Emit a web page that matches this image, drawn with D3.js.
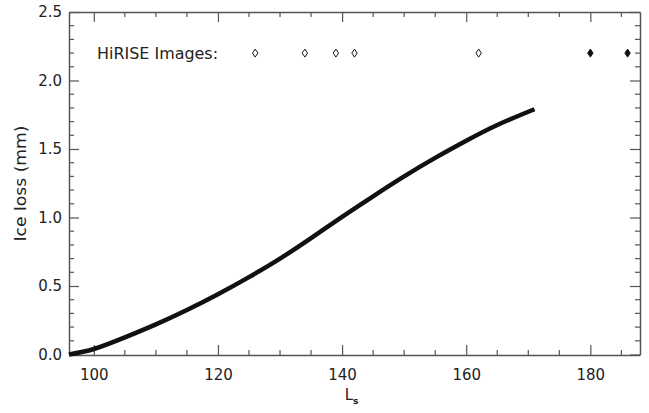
<!DOCTYPE html>
<html>
<head>
<meta charset="utf-8">
<script src="https://cdn.jsdelivr.net/npm/d3@7"></script>
<style>
  body { margin: 0; background: #fff; }
  svg text { font-family: "DejaVu Sans", sans-serif; fill: #222; }
</style>
</head>
<body>
<div id="chart"></div>
<script>
// Ice loss curve
const ls = [96, 100, 105, 110, 115, 120, 125, 130, 135, 140, 145, 150, 155, 160, 165, 171];
const iceLoss = [0.0, 0.04, 0.125, 0.22, 0.325, 0.44, 0.565, 0.70, 0.85, 1.005, 1.155, 1.30, 1.435, 1.56, 1.675, 1.79];

// HiRISE image dates
const imagesLs = [126, 134, 139, 142, 162, 180, 186];
const imagesFilled = [false, false, false, false, false, true, true];
const imagesY = 2.2;

const xTicks = [100, 120, 140, 160, 180];
const yTicks = [0.0, 0.5, 1.0, 1.5, 2.0, 2.5];

const width = 649, height = 413;
const margin = { left: 69, right: 9, top: 12, bottom: 58 };

const svg = d3.select('#chart').append('svg')
    .attr('width', width)
    .attr('height', height);

const x = d3.scaleLinear().domain([96, 188]).range([margin.left, width - margin.right]);
const y = d3.scaleLinear().domain([0, 2.5]).range([height - margin.bottom - 0.5, margin.top]);

const axisColor = '#555';

function styleAxis(g) {
    g.select('.domain').attr('stroke', axisColor).attr('stroke-width', 1.5);
    g.selectAll('.tick line').attr('stroke', axisColor).attr('stroke-width', 1.2);
    g.selectAll('.tick text').attr('fill', '#222').style('font-size', '15px');
}

function minorTicks(g, vals, horiz, len) {
    g.append('g').selectAll('line')
        .data(vals)
        .enter()
        .append('line')
            .attr('x1', d => horiz ? x(d) : 0)
            .attr('x2', d => horiz ? x(d) : len)
            .attr('y1', d => horiz ? 0 : y(d))
            .attr('y2', d => horiz ? len : y(d))
            .attr('stroke', axisColor)
            .attr('stroke-width', 1.2);
}

const xMinor = d3.range(100, 188, 5).filter(d => d % 20 != 0);
const yMinor = d3.range(0, 25).map(d => d / 10).filter(d => Math.round(d * 10) % 5 != 0);

const bottomG = svg.append('g').attr('transform', `translate(0,${height - margin.bottom})`)
    .call(d3.axisBottom(x).tickValues(xTicks).tickSizeInner(-10).tickSizeOuter(0).tickPadding(14).tickFormat(d3.format('d')));
styleAxis(bottomG);
minorTicks(bottomG, xMinor, true, -5);

const topG = svg.append('g').attr('transform', `translate(0,${margin.top})`)
    .call(d3.axisTop(x).tickValues(xTicks).tickSizeInner(-10).tickSizeOuter(0).tickFormat(''));
styleAxis(topG);
minorTicks(topG, xMinor, true, 5);

const leftG = svg.append('g').attr('transform', `translate(${margin.left},0)`)
    .call(d3.axisLeft(y).tickValues(yTicks).tickSizeInner(-10).tickSizeOuter(0).tickPadding(7).tickFormat(d3.format('.1f')));
styleAxis(leftG);
minorTicks(leftG, yMinor, false, 5);

const rightG = svg.append('g').attr('transform', `translate(${width - margin.right},0)`)
    .call(d3.axisRight(y).tickValues(yTicks).tickSizeInner(-10).tickSizeOuter(0).tickFormat(''));
styleAxis(rightG);
minorTicks(rightG, yMinor, false, -5);

// axis titles
svg.append('text')
    .attr('x', (margin.left + width - margin.right) / 2 - 3)
    .attr('y', 400)
    .attr('text-anchor', 'middle')
    .style('font-size', '15px')
    .text('L')
    .append('tspan')
        .attr('dy', 4)
        .style('font-size', '9px')
        .style('font-weight', 'bold')
        .text('s');

svg.append('text')
    .attr('transform', `translate(26,${(margin.top + height - margin.bottom) / 2}) rotate(-90)`)
    .attr('text-anchor', 'middle')
    .attr('textLength', 116)
    .attr('lengthAdjust', 'spacingAndGlyphs')
    .style('font-size', '15px')
    .text('Ice loss (mm)');

// curve
const line = d3.line()
    .x((d, i) => x(ls[i]))
    .y(d => y(d))
    .curve(d3.curveNatural);

svg.append('path')
    .datum(iceLoss)
    .attr('d', line)
    .attr('fill', 'none')
    .attr('stroke', '#111')
    .attr('stroke-width', 4.5);

// HiRISE images
svg.append('text')
    .attr('x', 97)
    .attr('y', y(imagesY) + 6)
    .attr('textLength', 121)
    .attr('lengthAdjust', 'spacingAndGlyphs')
    .style('font-size', '16px')
    .text('HiRISE Images:');

const diamond = 'M0,-4L2.7,0L0,4L-2.7,0Z';
svg.append('g').selectAll('path')
    .data(imagesLs)
    .enter()
    .append('path')
        .attr('d', diamond)
        .attr('transform', d => `translate(${x(d)},${y(imagesY)})`)
        .attr('fill', (d, i) => imagesFilled[i] ? '#111' : '#fff')
        .attr('stroke', '#111')
        .attr('stroke-width', 1);
</script>
</body>
</html>
